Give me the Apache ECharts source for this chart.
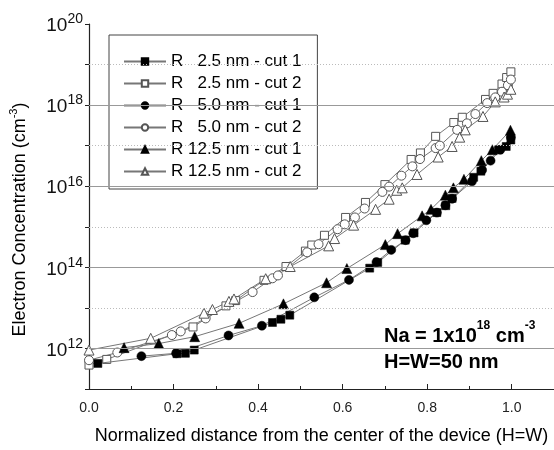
<!DOCTYPE html>
<html>
<head>
<meta charset="utf-8">
<script src="https://cdn.jsdelivr.net/npm/echarts@6/dist/echarts.min.js"></script>
<style>
  html, body { margin: 0; padding: 0; background: #fff; }
  #chart { width: 554px; height: 450px; }
</style>
</head>
<body>
<div id="chart"></div>
<script>
// normalized distance (x) and log10 of electron concentration
const r25c1X = [0.021, 0.208, 0.228, 0.249, 0.434, 0.454, 0.475, 0.664, 0.683, 0.748, 0.769, 0.823, 0.844, 0.859, 0.91, 0.927, 0.969, 0.987, 0.998]
const r25c1E = [11.63, 11.87, 11.88, 11.96, 12.64, 12.72, 12.82, 13.98, 14.12, 14.67, 14.85, 15.35, 15.52, 15.70, 16.22, 16.37, 16.90, 16.98, 17.14]

const r25c2X = [0.0, 0.042, 0.246, 0.324, 0.347, 0.414, 0.466, 0.512, 0.527, 0.557, 0.607, 0.654, 0.70, 0.762, 0.784, 0.82, 0.863, 0.883, 0.938, 0.956, 0.977, 0.988, 0.998]
const r25c2E = [11.59, 11.73, 12.53, 13.05, 13.18, 13.68, 14.02, 14.40, 14.55, 14.79, 15.23, 15.60, 16.04, 16.66, 16.82, 17.23, 17.57, 17.70, 18.14, 18.29, 18.52, 18.68, 18.82]

const r50c1X = [0.124, 0.206, 0.33, 0.409, 0.533, 0.615, 0.68, 0.715, 0.749, 0.767, 0.798, 0.823, 0.843, 0.859, 0.906, 0.93, 0.95, 0.973, 0.998]
const r50c1E = [11.81, 11.88, 12.32, 12.56, 13.26, 13.69, 14.13, 14.43, 14.67, 14.84, 15.16, 15.35, 15.53, 15.69, 16.12, 16.40, 16.63, 16.90, 17.20]

const r50c2X = [0.0, 0.067, 0.196, 0.217, 0.276, 0.387, 0.434, 0.447, 0.516, 0.543, 0.588, 0.605, 0.629, 0.652, 0.694, 0.71, 0.739, 0.765, 0.783, 0.82, 0.83, 0.871, 0.894, 0.914, 0.942, 0.961, 0.977, 0.991, 0.998]
const r50c2E = [11.71, 11.90, 12.33, 12.42, 12.74, 13.39, 13.73, 13.80, 14.37, 14.57, 14.94, 15.06, 15.23, 15.45, 15.86, 15.99, 16.26, 16.49, 16.67, 16.94, 17.00, 17.39, 17.55, 17.78, 18.05, 18.19, 18.33, 18.49, 18.63]

const r125c1X = [0.083, 0.165, 0.25, 0.355, 0.46, 0.562, 0.61, 0.701, 0.73, 0.788, 0.809, 0.843, 0.862, 0.887, 0.928, 0.954, 0.997]
const r125c1E = [12.02, 12.12, 12.29, 12.62, 13.10, 13.62, 13.97, 14.56, 14.83, 15.27, 15.43, 15.78, 15.96, 16.17, 16.63, 16.90, 17.38]

const r125c2X = [0.0, 0.146, 0.272, 0.292, 0.331, 0.343, 0.418, 0.476, 0.567, 0.581, 0.626, 0.678, 0.71, 0.728, 0.741, 0.776, 0.826, 0.859, 0.877, 0.89, 0.932, 0.961, 0.982, 0.99, 0.998]
const r125c2E = [11.96, 12.25, 12.87, 12.96, 13.16, 13.22, 13.72, 14.02, 14.53, 14.71, 15.04, 15.43, 15.68, 15.90, 15.96, 16.29, 16.72, 16.98, 17.21, 17.39, 17.72, 18.08, 18.20, 18.27, 18.39]

const legendNames = ['R   2.5 nm - cut 1', 'R   2.5 nm - cut 2', 'R   5.0 nm - cut 1', 'R   5.0 nm - cut 2', 'R 12.5 nm - cut 1', 'R 12.5 nm - cut 2']
const solidDecades = [1e12, 1e14, 1e16, 1e18]
const dottedDecades = [1e13, 1e15, 1e17, 1e19]

const font = '"Liberation Sans", Arial, sans-serif'

const toPoints = (xs, es) => xs.map((x, i) => [x, Math.pow(10, es[i])])

const makeSeries = (name, xs, es, symbol, size, filled) => ({
  name: name,
  type: 'line',
  data: toPoints(xs, es),
  symbol: symbol,
  symbolSize: size,
  showAllSymbol: true,
  lineStyle: { color: '#777', width: 1 },
  itemStyle: filled
    ? { color: '#000', borderColor: '#000', borderWidth: 0.5 }
    : { color: '#fff', borderColor: '#555', borderWidth: 1 },
  emphasis: { disabled: true },
  animation: false,
  z: filled ? 3 : 2
})

const series = [
  makeSeries(legendNames[0], r25c1X, r25c1E, 'rect', 8, true),
  makeSeries(legendNames[1], r25c2X, r25c2E, 'rect', 8, false),
  makeSeries(legendNames[2], r50c1X, r50c1E, 'circle', 9, true),
  makeSeries(legendNames[3], r50c2X, r50c2E, 'circle', 9, false),
  makeSeries(legendNames[4], r125c1X, r125c1E, 'triangle', 10, true),
  makeSeries(legendNames[5], r125c2X, r125c2E, 'triangle', 10, false)
]

// grid lines: solid on even decades, dotted on odd ones
series[0].markLine = {
  silent: true,
  symbol: 'none',
  label: { show: false },
  animation: false,
  data: solidDecades.map(v => ({ yAxis: v, lineStyle: { color: '#999', width: 1, type: 'solid' } }))
    .concat(dottedDecades.map(v => ({ yAxis: v, lineStyle: { color: '#bbb', width: 1, type: [1, 2] } })))
}

const chart = echarts.init(document.getElementById('chart'))

chart.setOption({
  backgroundColor: '#fff',
  animation: false,
  textStyle: { fontFamily: font },
  grid: { left: 88, right: 0, top: 24, bottom: 59 },
  legend: {
    data: legendNames,
    orient: 'vertical',
    left: 109,
    top: 35,
    padding: [18, 16, 9, 14],
    itemWidth: 42,
    itemHeight: 8,
    itemGap: 5,
    itemTextGap: 4,
    backgroundColor: '#fff',
    borderColor: '#444',
    borderWidth: 1,
    borderRadius: 0,
    selectedMode: false,
    textStyle: { fontSize: 17, color: '#000', fontFamily: font }
  },
  xAxis: {
    type: 'value',
    min: 0,
    max: 1.1,
    interval: 0.2,
    name: 'Normalized distance from the center of the device (H=W)',
    nameLocation: 'middle',
    nameGap: 38,
    nameTextStyle: { fontSize: 18, color: '#000', fontFamily: font },
    axisLine: { show: true, lineStyle: { color: '#222', width: 1.2 } },
    axisTick: { show: true, inside: true, length: 5, lineStyle: { color: '#222' } },
    minorTick: { show: true, splitNumber: 2, length: 3, lineStyle: { color: '#222' } },
    axisLabel: {
      fontSize: 14,
      color: '#222',
      margin: 12,
      showMaxLabel: false,
      formatter: v => v.toFixed(1)
    },
    splitLine: { show: false }
  },
  yAxis: {
    type: 'log',
    logBase: 10,
    min: 1e11,
    max: 1e20,
    name: '{n|Electron Concentration (cm}{s|-3}{n|)}',
    nameLocation: 'middle',
    nameGap: 60,
    nameTextStyle: {
      color: '#000',
      padding: [0, 26, 0, 0],
      rich: {
        n: { fontSize: 18, fontFamily: font, color: '#000', lineHeight: 21, verticalAlign: 'bottom' },
        s: { fontSize: 11, fontFamily: font, color: '#000', lineHeight: 21, verticalAlign: 'top' }
      }
    },
    axisLine: { show: true, lineStyle: { color: '#222', width: 1.2 } },
    axisTick: { show: true, inside: false, length: 4, lineStyle: { color: '#222' } },
    axisLabel: {
      margin: 6,
      formatter: v => {
        const e = Math.round(Math.log10(v))
        if (e % 2 !== 0) return ''
        return '{b|10}{s|' + e + '}'
      },
      rich: {
        b: { fontSize: 19, fontFamily: font, color: '#111', lineHeight: 23, verticalAlign: 'bottom' },
        s: { fontSize: 14, fontFamily: font, color: '#111', lineHeight: 23, verticalAlign: 'top' }
      }
    },
    splitLine: { show: false }
  },
  graphic: [
    {
      type: 'text',
      left: 384,
      top: 320,
      z: 10,
      style: {
        text: '{b|Na = 1x10}{s|18}{b| cm}{s|-3}',
        rich: {
          b: { fontSize: 20, fontWeight: 'bold', fontFamily: font, fill: '#000', lineHeight: 26, verticalAlign: 'bottom' },
          s: { fontSize: 12, fontWeight: 'bold', fontFamily: font, fill: '#000', lineHeight: 26, verticalAlign: 'top' }
        }
      }
    },
    {
      type: 'text',
      left: 384,
      top: 352,
      z: 10,
      style: {
        text: 'H=W=50 nm',
        fontSize: 20,
        fontWeight: 'bold',
        fontFamily: font,
        fill: '#000'
      }
    }
  ],
  series: series
})
</script>
</body>
</html>
